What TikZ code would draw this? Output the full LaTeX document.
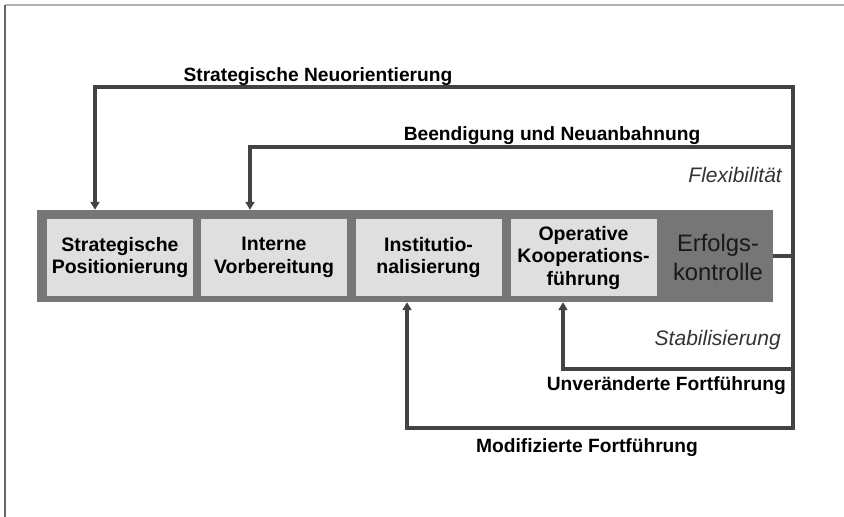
\documentclass[tikz,border=0pt]{standalone}
\usepackage{fontspec}
\setmainfont{Liberation Sans}
\usetikzlibrary{arrows.meta}
\definecolor{bargray}{HTML}{767676}
\definecolor{boxgray}{HTML}{DFDFDF}
\definecolor{linegray}{HTML}{434343}
\definecolor{labelgray}{HTML}{333333}
\tikzset{
  phase/.style={fill=boxgray, minimum width=146pt, minimum height=77pt, inner sep=0pt,
    align=center, font=\fontsize{19.5}{22.5}\selectfont\bfseries},
  feedback/.style={draw=linegray, line width=3.2pt, line join=miter,
    -{Triangle[width=9pt,length=8pt]}},
  link/.style={draw=linegray, line width=3.2pt},
  looplabel/.style={font=\fontsize{19.2}{22}\selectfont\bfseries, inner sep=0pt},
  modelabel/.style={font=\fontsize{21}{24}\selectfont\itshape, text=labelgray, inner sep=0pt}
}
\begin{document}
\begin{tikzpicture}[x=1pt, y=-1pt]
\useasboundingbox (0,0) rectangle (844,517);
% page frame
\draw[color=black!30, line width=1.2pt] (5,5) -- (844,5);
\draw[color=black!60, line width=1.5pt] (5,5) -- (5,517);

% process bar with its phases
\node[fill=bargray, minimum width=736pt, minimum height=92pt, inner sep=0pt] (bar) at (404.5,256) {};
\node[phase] (p1) at (120,257.5) {Strategische\\Positionierung};
\node[phase] (p2) at (274,257.5) {Interne\\Vorbereitung};
\node[phase] (p3) at (428.5,257.5) {Institutio-\\nalisierung};
\node[phase] (p4) at (583.5,257.5) {Operative\\Kooperations-\\führung};
\node[align=center, font=\fontsize{23.8}{29}\selectfont, text=black!90, inner sep=0pt] (ek) at (718,257) {Erfolgs-\\kontrolle};

% feedback loops
\coordinate (j) at (793,256);
\coordinate (t1) at (95,87);
\coordinate (t2) at (250,147);
\coordinate (b1) at (563,369);
\coordinate (b2) at (407,428);
\draw[link] (bar.east) -- (j);
\draw[feedback] (j) |- (t1) -- (t1 |- bar.north);
\draw[feedback] (j) |- (t2) -- (t2 |- bar.north);
\draw[feedback] (j) |- (b1) -- (b1 |- bar.south);
\draw[feedback] (j) |- (b2) -- (b2 |- bar.south);

% loop labels
\node[looplabel, anchor=base] (l1) at (318,81) {Strategische Neuorientierung};
\node[looplabel, anchor=base] (l2) at (552,140) {Beendigung und Neuanbahnung};
\node[looplabel, anchor=base east] (l3) at (786,390) {Unveränderte Fortführung};
\node[looplabel, anchor=base] (l4) at (587,452) {Modifizierte Fortführung};
\node[modelabel, anchor=base east] (m1) at (782,182) {Flexibilität};
\node[modelabel, anchor=base east] (m2) at (781,345) {Stabilisierung};
\end{tikzpicture}
\end{document}
